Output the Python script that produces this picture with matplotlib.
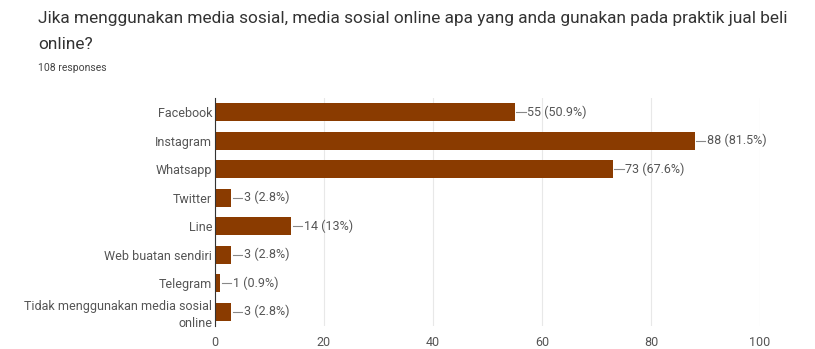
import numpy as np
import matplotlib.pyplot as plt

categories = ['Facebook', 'Instagram', 'Whatsapp', 'Twitter', 'Line',
              'Web buatan sendiri', 'Telegram', 'Tidak menggunakan media sosial\nonline']
counts = [55, 88, 73, 3, 14, 3, 1, 3]
pct_labels = ['50.9%', '81.5%', '67.6%', '2.8%', '13%', '2.8%', '0.9%', '2.8%']
xticks = [0, 20, 40, 60, 80, 100]

plt.rcParams['font.family'] = ['Roboto', 'DejaVu Sans']

bar_color = '#8a3b00'
text_color = '#555555'

fig = plt.figure(figsize=(8.15, 3.49), dpi=100)
fig.text(0.047, 0.948, 'Jika menggunakan media sosial, media sosial online apa yang anda gunakan pada praktik jual beli',
         fontsize=12.4, color='#333333', va='center')
fig.text(0.047, 0.872, 'online?', fontsize=12.4, color='#333333', va='center')
fig.text(0.047, 0.805, '108 responses', fontsize=7.5, color='#444444', va='center')

ax = fig.add_axes([0.2638, 0.066, 0.6687, 0.653])
y = np.arange(len(categories))
ax.barh(y, counts, height=0.62, color=bar_color, zorder=3)

for yi, c, p in zip(y, counts, pct_labels):
    ax.plot([c + 0.3, c + 2.0], [yi, yi], color='#888888', lw=0.8, zorder=3)
    ax.text(c + 2.3, yi, f'{c} ({p})', va='center', ha='left', fontsize=9, color=text_color)

ax.set_xlim(0, 100)
ax.set_ylim(len(categories) - 0.5, -0.5)
ax.set_yticks(y)
ax.set_yticklabels(categories, fontsize=9, color=text_color, linespacing=1.35)
ax.set_xticks(xticks)
ax.set_xticklabels([str(t) for t in xticks], fontsize=9, color=text_color)
ax.tick_params(axis='y', length=0, pad=2)
ax.tick_params(axis='x', length=0, pad=7)
ax.grid(axis='x', color='#e8e8e8', lw=0.8, zorder=0)
for s in ['top', 'right', 'bottom']:
    ax.spines[s].set_visible(False)
ax.spines['left'].set_color('#333333')
ax.spines['left'].set_linewidth(0.8)
ax.spines['left'].set_zorder(4)

fig.savefig('out.png', dpi=100)
